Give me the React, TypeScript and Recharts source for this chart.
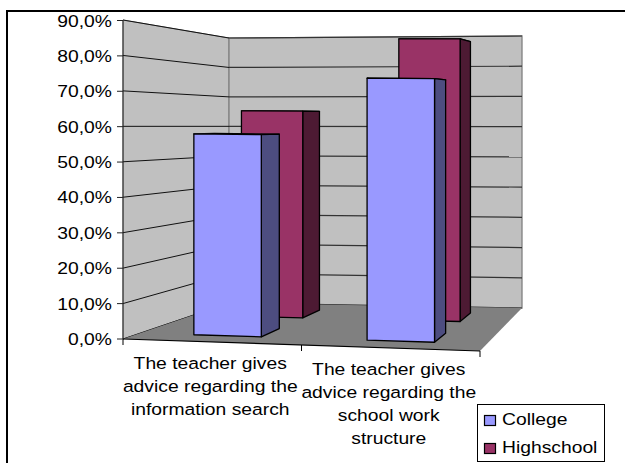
import React from "react";
import { BarChart, Bar, XAxis, YAxis, CartesianGrid, Legend } from "recharts";

const categories = [
  "The teacher gives\nadvice regarding the\ninformation search",
  "The teacher gives\nadvice regarding the\nschool work\nstructure",
];
const collegeValues = [58.0, 74.4];
const highschoolValues = [65.0, 87.6];
const yTicks = [0, 10, 20, 30, 40, 50, 60, 70, 80, 90];
const tableData = categories.map((name, i) => ({
  name,
  College: collegeValues[i],
  Highschool: highschoolValues[i],
}));

const W = 625, H = 463;
const PLOT = { left: 123, top: 20.5, right: 480, bottom: 339 };
const PW = PLOT.right - PLOT.left;
const PH = PLOT.bottom - PLOT.top;
const BAR = 69.5;
const FONT = "'Liberation Sans', Arial, sans-serif";

// floor corners & wall heights of the 3D box
const FL = [123, 339], FR = [480, 351], BL = [229, 303], BR = [522, 308];
const HF0 = 319, HF1 = 330, HB0 = 265, HB1 = 272;
const lerp = (a: number, b: number, t: number) => a + (b - a) * t;

function project(u: number, d: number, f: number): [number, number] {
  const x = lerp(lerp(FL[0], FR[0], u), lerp(BL[0], BR[0], u), d);
  const y = lerp(lerp(FL[1], FR[1], u), lerp(BL[1], BR[1], u), d);
  const h = lerp(lerp(HF0, HF1, u), lerp(HB0, HB1, u), d);
  return [x, y - f * h];
}
const pts = (list: [number, number][]) => list.map((p) => p.join(",")).join(" ");

const STRETCH = 1.17;
const SText = ({ x, y, anchor = "start", children }: any) => (
  <text
    transform={`translate(${x} ${y}) scale(${STRETCH} 1)`}
    textAnchor={anchor}
    fontFamily={FONT}
    fontSize={16.5}
    fill="#000"
  >
    {children}
  </text>
);

const box3d = (d0: number, d1: number, side: string, top: string) => (props: any) => {
  const { x, width, height, fill } = props;
  const u0 = (x - PLOT.left) / PW;
  const u1 = (x + width - PLOT.left) / PW;
  const f = height / PH;
  const a = project(u0, d0, 0), b = project(u1, d0, 0), c = project(u1, d0, f), e = project(u0, d0, f);
  const b2 = project(u1, d1, 0), c2 = project(u1, d1, f), e2 = project(u0, d1, f);
  const common = { stroke: "#000", strokeWidth: 1.3, strokeLinejoin: "round" as const };
  return (
    <g>
      <polygon points={pts([e, c, c2, e2])} fill={top} {...common} />
      <polygon points={pts([b, b2, c2, c])} fill={side} {...common} />
      <polygon points={pts([a, b, c, e])} fill={fill} {...common} />
    </g>
  );
};

const gridLine = (props: any) => {
  const f = (PLOT.bottom - props.y1) / PH;
  const a = project(0, 0, f), b = project(0, 1, f), c = project(1, 1, f);
  return (
    <g key={props.key}>
      <line x1={a[0]} y1={a[1]} x2={b[0]} y2={b[1]} stroke="#111" strokeWidth={1} />
      <line x1={b[0]} y1={b[1]} x2={c[0]} y2={c[1]} stroke="#333" strokeWidth={1.2} />
    </g>
  );
};

const YTick = ({ x, y, payload }: any) => (
  <SText x={x} y={y + 6} anchor="end">{`${payload.value.toFixed(1).replace(".", ",")}%`}</SText>
);

const XTick = ({ x, payload }: any) => {
  const u = (x - PLOT.left) / PW;
  const base = project(u, 0, 0)[1] + 27;
  return (
    <g>
      {String(payload.value).split("\n").map((line: string, i: number) => (
        <SText key={i} x={x - 2} y={base + i * 23} anchor="middle">{line}</SText>
      ))}
    </g>
  );
};

const LegendBox = ({ payload }: any) => {
  const items = [...(payload || [])].sort((a: any, b: any) => String(a.value).localeCompare(String(b.value)));
  return (
    <svg width={128} height={58} style={{ display: "block" }}>
      <rect x={0.5} y={0.5} width={127} height={57} fill="#fff" stroke="#000" />
      {items.map((it: any, i: number) => (
        <g key={it.value}>
          <rect x={7.5} y={11.5 + i * 28} width={11} height={10} fill={it.color} stroke="#000" strokeWidth={1.2} />
          <SText x={25} y={21 + i * 28}>{it.value}</SText>
        </g>
      ))}
    </svg>
  );
};

const P = (p: number[]) => p as [number, number];
const TL = project(0, 0, 1), TB = project(0, 1, 1), TR = project(1, 1, 1);

const Scene = () => (
  <svg width={W} height={H} style={{ position: "absolute", left: 0, top: 0 }}>
    <rect x={7} y={11} width={W + 20} height={H + 20} fill="#fff" stroke="#000" strokeWidth={2} />
    <polygon points={pts([P(FL), TL, TB, P(BL)])} fill="#C0C0C0" stroke="#808080" />
    <polygon points={pts([TB, TR, P(BR), P(BL)])} fill="#C0C0C0" stroke="#808080" strokeWidth={1.3} />
  </svg>
);

const Floor = () => (
  <g>
    <polygon points={pts([P(FL), P(FR), P(BR), P(BL)])} fill="#808080" />
    <line x1={FL[0]} y1={FL[1]} x2={FR[0]} y2={FR[1]} stroke="#000" strokeWidth={1.2} />
    {[0, 0.5, 1].map((u) => {
      const p = project(u, 0, 0);
      return <line key={u} x1={p[0]} y1={p[1]} x2={p[0]} y2={p[1] + 6} stroke="#000" />;
    })}
  </g>
);

export default function App() {
  return (
    <div style={{ position: "absolute", left: 0, top: 0, width: W, height: H, overflow: "hidden" }}>
      <Scene />
      <div style={{ position: "absolute", left: 0, top: 0 }}>
        <BarChart
          width={W}
          height={H}
          data={tableData}
          margin={{ top: PLOT.top, right: W - PLOT.right, bottom: 0, left: 0 }}
          barSize={BAR}
          barGap={-BAR}
        >
          <CartesianGrid horizontal={gridLine} vertical={false} />
          <XAxis
            dataKey="name"
            height={H - PLOT.bottom}
            axisLine={false}
            tickLine={false}
            tick={<XTick />}
            interval={0}
          />
          <YAxis
            width={PLOT.left}
            domain={[0, 90]}
            ticks={yTicks}
            tickSize={6}
            tickMargin={5}
            stroke="#222"
            tick={<YTick />}
            interval={0}
          />
          <Floor />
          <Bar dataKey="Highschool" fill="#993366" isAnimationActive={false} shape={box3d(0.66, 0.86, "#4D1A33", "#4D1A33")} />
          <Bar dataKey="College" fill="#9999FF" isAnimationActive={false} shape={box3d(0.165, 0.38, "#4D4D80", "#4D4D80")} />
          <Legend
            layout="vertical"
            align="center"
            verticalAlign="middle"
            content={<LegendBox />}
            wrapperStyle={{ position: "absolute", left: 477, top: 404, width: 128, height: 58 }}
          />
        </BarChart>
      </div>
    </div>
  );
}
